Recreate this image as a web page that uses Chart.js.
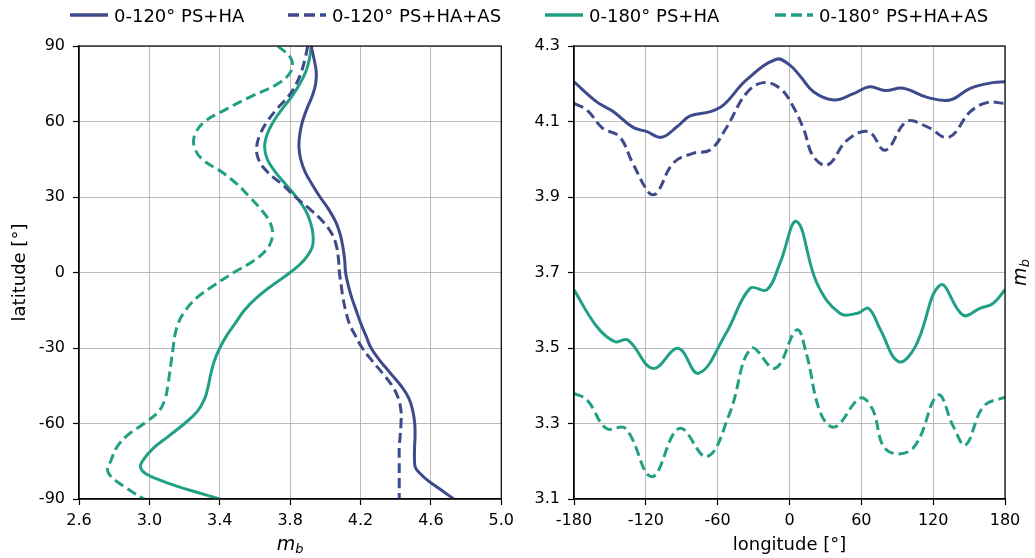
<!DOCTYPE html>
<html>
<head>
<meta charset="utf-8">
<script src="https://cdn.jsdelivr.net/npm/chart.js@4.4.0/dist/chart.umd.min.js"></script>
<style>
  body { margin: 0; background: #fff; font-family: "DejaVu Sans", sans-serif; }
  #wrap { position: relative; width: 1035px; height: 558px; overflow: hidden; }
  canvas { position: absolute; top: 0; }
  .item { position: absolute; top: 3px; height: 24px; display: flex; align-items: center; font-size: 18px; color: #000; white-space: nowrap; }
  .item svg { margin-right: 6px; }
</style>
</head>
<body>
<div id="wrap">
  <canvas id="chart-lat" width="520" height="558" style="left:0"></canvas>
  <canvas id="chart-lon" width="515" height="558" style="left:520px"></canvas>
  <div id="legend"></div>
</div>
<script>
// series names + colours
const seriesNames = ['0-120° PS+HA', '0-120° PS+HA+AS', '0-180° PS+HA', '0-180° PS+HA+AS'];
const navy = 'rgb(63, 74, 138)';
const green = 'rgb(34, 160, 133)';

// left panel: zonal mean m_b against latitude
const latitudes = [90, 85, 80, 75, 70, 65, 60, 55, 50, 45, 40, 35, 30, 25, 20, 15, 10, 5, 0,
  -5, -10, -15, -20, -25, -30, -35, -40, -45, -50, -55, -60, -65, -70, -75, -77.5, -80, -82.5, -85, -87.5, -90];
const mbLat120 = [3.92, 3.935, 3.948, 3.945, 3.925, 3.895, 3.87, 3.855, 3.85, 3.86, 3.885, 3.925, 3.97, 4.02, 4.06, 4.085, 4.10, 4.11, 4.115,
  4.13, 4.15, 4.175, 4.20, 4.23, 4.26, 4.31, 4.37, 4.43, 4.475, 4.497, 4.508, 4.51, 4.507, 4.507, 4.512, 4.54, 4.58, 4.63, 4.68, 4.73];
const mbLat120AS = [3.90, 3.885, 3.865, 3.835, 3.79, 3.725, 3.67, 3.63, 3.61, 3.62, 3.67, 3.755, 3.83, 3.915, 3.99, 4.04, 4.065, 4.075, 4.08,
  4.09, 4.10, 4.115, 4.135, 4.17, 4.21, 4.265, 4.325, 4.38, 4.415, 4.43, 4.43, 4.425, 4.42, 4.42, 4.42, 4.42, 4.42, 4.42, 4.42, 4.42];
const mbLat180 = [3.92, 3.91, 3.89, 3.855, 3.81, 3.755, 3.705, 3.67, 3.655, 3.67, 3.715, 3.775, 3.835, 3.885, 3.915, 3.93, 3.925, 3.88, 3.80,
  3.70, 3.61, 3.54, 3.49, 3.44, 3.40, 3.37, 3.35, 3.335, 3.315, 3.275, 3.20, 3.11, 3.02, 2.96, 2.95, 2.98, 3.06, 3.16, 3.28, 3.40];
const mbLat180AS = [3.73, 3.805, 3.805, 3.73, 3.58, 3.44, 3.315, 3.26, 3.255, 3.30, 3.41, 3.50, 3.57, 3.635, 3.685, 3.70, 3.675, 3.60, 3.48,
  3.37, 3.27, 3.205, 3.165, 3.145, 3.135, 3.125, 3.115, 3.105, 3.09, 3.055, 2.97, 2.87, 2.81, 2.78, 2.762, 2.77, 2.805, 2.855, 2.91, 2.97];

// right panel: meridional mean m_b against longitude
const lon120 = [-180, -161, -147, -131, -119, -107, -94, -83, -66, -55, -36, -11, 0, 9, 20, 37, 53, 67, 80, 95, 115, 134, 151, 170, 180];
const mbLon120 = [4.205, 4.152, 4.126, 4.085, 4.073, 4.058, 4.086, 4.115, 4.126, 4.144, 4.21, 4.265, 4.25, 4.22, 4.179, 4.157, 4.173, 4.192, 4.182, 4.188, 4.164, 4.157, 4.188, 4.203, 4.205];
const lon120AS = [-180, -169, -156, -142, -131, -117, -111, -97, -80, -66, -53, -36, -22, -8, 3, 12, 20, 32, 48, 66, 80, 98, 115, 133, 151, 165, 180];
const mbLon120AS = [4.148, 4.13, 4.082, 4.06, 3.99, 3.91, 3.91, 3.99, 4.016, 4.025, 4.082, 4.175, 4.203, 4.188, 4.14, 4.078, 4.007, 3.985, 4.05, 4.073, 4.024, 4.1, 4.086, 4.058, 4.126, 4.15, 4.148];
const lon180 = [-180, -161, -146, -135, -114, -93, -76, -53, -33, -19, -8, 6, 23, 42, 57, 66, 76, 91, 105, 126, 145, 159, 170, 180];
const mbLon180 = [3.654, 3.557, 3.517, 3.521, 3.446, 3.499, 3.433, 3.539, 3.658, 3.654, 3.724, 3.835, 3.671, 3.592, 3.592, 3.605, 3.548, 3.464, 3.503, 3.667, 3.587, 3.605, 3.618, 3.654];
const lon180AS = [-180, -169, -153, -137, -115, -92, -69, -50, -32, -12, 6, 14, 26, 38, 59, 69, 81, 103, 124, 137, 147, 162, 180];
const mbLon180AS = [3.38, 3.362, 3.287, 3.287, 3.159, 3.287, 3.212, 3.327, 3.499, 3.446, 3.548, 3.486, 3.327, 3.291, 3.367, 3.34, 3.23, 3.234, 3.375, 3.291, 3.243, 3.345, 3.37];

// tick labels
const mbTicksLeft = [2.6, 3.0, 3.4, 3.8, 4.2, 4.6, 5.0];
const latTicks = [-90, -60, -30, 0, 30, 60, 90];
const lonTicks = [-180, -120, -60, 0, 60, 120, 180];
const mbTicksRight = [3.1, 3.3, 3.5, 3.7, 3.9, 4.1, 4.3];

const tickFont = { family: 'DejaVu Sans', size: 16 };
const gridOpts = { color: 'rgba(176,176,176,0.85)', lineWidth: 1, tickLength: 6, tickColor: '#000', tickWidth: 1.2 };
const borderOpts = { display: true, color: '#000', width: 1.2 };

function setTicks(values) {
  return scale => { scale.ticks = values.map(v => ({ value: v })); };
}

function drawMb(ctx, cx, cy, angle) {
  ctx.save();
  ctx.translate(cx, cy);
  ctx.rotate(angle);
  ctx.fillStyle = '#000';
  ctx.textBaseline = 'middle';
  ctx.textAlign = 'left';
  ctx.font = 'italic 19px "DejaVu Sans"';
  const wm = ctx.measureText('m').width;
  ctx.font = 'italic 13px "DejaVu Sans"';
  const wb = ctx.measureText('b').width;
  const x0 = -(wm + wb) / 2;
  ctx.font = 'italic 19px "DejaVu Sans"';
  ctx.fillText('m', x0, 0);
  ctx.font = 'italic 13px "DejaVu Sans"';
  ctx.fillText('b', x0 + wm, 5);
  ctx.restore();
}

function drawLabel(ctx, text, cx, cy, angle) {
  ctx.save();
  ctx.translate(cx, cy);
  ctx.rotate(angle);
  ctx.fillStyle = '#000';
  ctx.font = '18px "DejaVu Sans"';
  ctx.textAlign = 'center';
  ctx.textBaseline = 'middle';
  ctx.fillText(text, 0, 0);
  ctx.restore();
}

// black box round the plot area + axis titles
const framePlugin = {
  id: 'frame',
  afterDatasetsDraw(chart) {
    const { ctx, chartArea: a } = chart;
    ctx.save();
    ctx.strokeStyle = '#000';
    ctx.lineWidth = 1.2;
    ctx.strokeRect(a.left, a.top, a.right - a.left, a.bottom - a.top);
    ctx.restore();
  },
  afterDraw(chart) {
    const { ctx, chartArea: a } = chart;
    const mx = (a.left + a.right) / 2, my = (a.top + a.bottom) / 2;
    if (chart.canvas.id === 'chart-lat') {
      drawMb(ctx, mx, a.bottom + 46, 0);
      drawLabel(ctx, 'latitude [°]', 20, my, -Math.PI / 2);
    } else {
      drawLabel(ctx, 'longitude [°]', mx, a.bottom + 46, 0);
      drawMb(ctx, a.right + 16, my, -Math.PI / 2);
    }
  }
};

function lineSet(label, points, color, dashed) {
  return {
    label: label,
    data: points,
    borderColor: color,
    backgroundColor: color,
    borderWidth: 3,
    borderDash: dashed ? [10, 5] : [],
    pointRadius: 0,
    tension: 0.4,
    fill: false
  };
}

const latPoints = mb => latitudes.map((lat, i) => ({ x: mb[i], y: lat }));
const lonPoints = (lon, mb) => lon.map((l, i) => ({ x: l, y: mb[i] }));

new Chart(document.getElementById('chart-lat'), {
  type: 'line',
  data: {
    datasets: [
      lineSet(seriesNames[0], latPoints(mbLat120), navy, false),
      lineSet(seriesNames[1], latPoints(mbLat120AS), navy, true),
      lineSet(seriesNames[2], latPoints(mbLat180), green, false),
      lineSet(seriesNames[3], latPoints(mbLat180AS), green, true)
    ]
  },
  options: {
    responsive: false,
    animation: false,
    indexAxis: 'y',
    layout: { padding: { top: 46, right: 11, left: 0, bottom: 0 } },
    plugins: { legend: { display: false }, tooltip: { enabled: false } },
    scales: {
      x: {
        type: 'linear', min: 2.6, max: 5.0,
        afterBuildTicks: setTicks(mbTicksLeft),
        afterFit: s => { s.height = 59; },
        ticks: { font: tickFont, color: '#000', padding: 6, maxRotation: 0, callback: v => v.toFixed(1) },
        grid: gridOpts, border: borderOpts
      },
      y: {
        type: 'linear', min: -90, max: 90,
        afterBuildTicks: setTicks(latTicks),
        afterFit: s => { s.width = 79; },
        ticks: { font: tickFont, color: '#000', padding: 8, callback: v => String(v) },
        grid: gridOpts, border: borderOpts
      }
    }
  },
  plugins: [framePlugin]
});

new Chart(document.getElementById('chart-lon'), {
  type: 'line',
  data: {
    datasets: [
      lineSet(seriesNames[0], lonPoints(lon120, mbLon120), navy, false),
      lineSet(seriesNames[1], lonPoints(lon120AS, mbLon120AS), navy, true),
      lineSet(seriesNames[2], lonPoints(lon180, mbLon180), green, false),
      lineSet(seriesNames[3], lonPoints(lon180AS, mbLon180AS), green, true)
    ]
  },
  options: {
    responsive: false,
    animation: false,
    layout: { padding: { top: 46, right: 0, left: 0, bottom: 0 } },
    plugins: { legend: { display: false }, tooltip: { enabled: false } },
    scales: {
      x: {
        type: 'linear', min: -180, max: 180,
        afterBuildTicks: setTicks(lonTicks),
        afterFit: s => { s.height = 59; },
        ticks: { font: tickFont, color: '#000', padding: 6, maxRotation: 0, callback: v => String(v) },
        grid: gridOpts, border: borderOpts
      },
      y: {
        type: 'linear', min: 3.1, max: 4.3,
        afterBuildTicks: setTicks(mbTicksRight),
        afterFit: s => { s.width = 54; },
        ticks: { font: tickFont, color: '#000', padding: 8, callback: v => v.toFixed(1) },
        grid: gridOpts, border: borderOpts
      },
      y2: {
        type: 'linear', position: 'right', min: 3.1, max: 4.3,
        afterFit: s => { s.width = 30; },
        ticks: { display: false },
        grid: { display: false, drawTicks: false },
        border: { display: false }
      }
    }
  },
  plugins: [framePlugin]
});

// figure legend across the top
const legendX = [70, 288, 545, 775];
const legend = document.getElementById('legend');
seriesNames.forEach((name, i) => {
  const color = i < 2 ? navy : green;
  const dash = i % 2 === 1 ? 'stroke-dasharray="11 5"' : '';
  const div = document.createElement('div');
  div.className = 'item';
  div.style.left = legendX[i] + 'px';
  div.innerHTML = '<svg width="38" height="6"><line x1="0" y1="3" x2="38" y2="3" stroke="' + color +
    '" stroke-width="3.5" ' + dash + '/></svg><span>' + name + '</span>';
  legend.appendChild(div);
});
</script>
</body>
</html>
